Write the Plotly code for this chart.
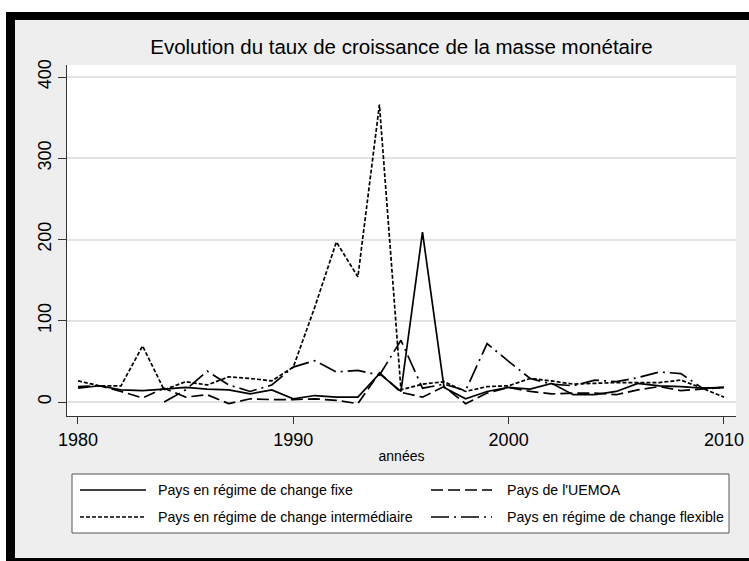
import plotly.graph_objects as go

# années 1980-2010
annees = list(range(1980, 2011))

# taux de croissance de la masse monétaire (%)
fixe = [17, 20, 15, 14, 16, 18, 16, 15, 10, 15, 4, 8, 6, 6, 35, 13, 209, 18, 4, 13,
        18, 16, 23, 9, 9, 13, 23, 20, 19, 17, 18]
uemoa = [19, 20, 13, 5, 17, 6, 9, -2, 4, 3, 3, 4, 2, -2, 36, 12, 6, 19, -2, 11,
         18, 13, 10, 11, 11, 9, 15, 19, 14, 16, 18]
intermediaire = [26, 20, 20, 69, 15, 25, 21, 31, 29, 26, 43, 117, 197, 154, 366, 15, 22, 25, 13, 19,
                 20, 29, 26, 22, 23, 24, 24, 24, 27, 17, 6]
flexible = [None, None, None, None, 0, 15, 38, 21, 13, 21, 43, 51, 37, 39, 33, 76, 17, 22, 14, 72,
            50, 29, 22, 20, 27, 25, 30, 37, 35, 17, 18]

noms = ["Pays en régime de change fixe", "Pays de l'UEMOA",
        "Pays en régime de change intermédiaire", "Pays en régime de change flexible"]
series = [fixe, uemoa, intermediaire, flexible]
tirets = ["solid", "12px,5px", "4px,2px", "18px,5px,2px,5px"]

fig = go.Figure()
for nom, vals, dash in zip(noms, series, tirets):
    fig.add_trace(go.Scatter(x=annees, y=vals, name=nom, mode="lines", showlegend=False,
                             line=dict(color="black", width=1.7, dash=dash)))

# positions en pixels -> coordonnées papier
W, H = 749, 561
L, R, T, B = 67, 736, 65, 416
def px(x):
    return (x - L) / (R - L)
def py(y):
    return (B - y) / (B - T)

# cadre noir autour du graphique
shapes = [
    dict(type="rect", x0=px(0), x1=px(W), y0=py(0), y1=py(12), fillcolor="white", line_width=0),
    dict(type="rect", x0=px(0), x1=px(6), y0=py(0), y1=py(H), fillcolor="white", line_width=0),
    dict(type="rect", x0=px(6), x1=px(W), y0=py(12), y1=py(20), fillcolor="black", line_width=0),
    dict(type="rect", x0=px(6), x1=px(15), y0=py(12), y1=py(H), fillcolor="black", line_width=0),
    dict(type="rect", x0=px(6), x1=px(W), y0=py(558), y1=py(H), fillcolor="black", line_width=0),
    # boîte de la légende
    dict(type="rect", x0=px(72), x1=px(729), y0=py(474), y1=py(533), fillcolor="white",
         line=dict(color="#555555", width=1)),
]

# légende sur deux colonnes (Stata)
annotations = []
pos_leg = [(80, 146, 156, 490), (431, 492, 505, 490), (80, 146, 156, 517), (431, 492, 505, 517)]
for nom, dash, (xa, xb, xt, yr) in zip(noms, tirets, pos_leg):
    shapes.append(dict(type="line", x0=px(xa), x1=px(xb), y0=py(yr), y1=py(yr),
                       line=dict(color="black", width=1.7, dash=dash)))
    annotations.append(dict(text=nom, x=px(xt), y=py(yr), xref="paper", yref="paper",
                            xanchor="left", yanchor="middle", showarrow=False,
                            font=dict(size=14.2)))
for s in shapes:
    s.update(xref="paper", yref="paper", layer="above")

fig.update_layout(
    width=W, height=H,
    margin=dict(l=L, r=W - R, t=T, b=H - B, autoexpand=False),
    paper_bgcolor="#eeeeee", plot_bgcolor="white",
    font=dict(family="Liberation Sans, Arial, sans-serif", color="black"),
    title=dict(text="Evolution du taux de croissance de la masse monétaire",
               font=dict(size=20.5), x=0.5, xref="paper", xanchor="center",
               y=1 - 47 / H, yref="container", yanchor="middle"),
    shapes=shapes,
    annotations=annotations,
)
fig.update_xaxes(range=[1979.49, 2010.56], tickvals=[1980, 1990, 2000, 2010],
                 showgrid=False, zeroline=False, showline=True, linecolor="#333333", linewidth=1,
                 ticks="outside", ticklen=7, tickcolor="#333333", tickfont=dict(size=18),
                 title=dict(text="années", font=dict(size=14), standoff=2))
fig.update_yaxes(range=[-17.2, 414.8], tickvals=[0, 100, 200, 300, 400], tickangle=-90,
                 showgrid=True, gridcolor="#e4e4e4", gridwidth=1.5, zeroline=False,
                 showline=True, linecolor="#333333", linewidth=1,
                 ticks="outside", ticklen=8, tickcolor="#333333", tickfont=dict(size=18))

# pas de marge de page autour du graphique
fig.write_html("out.html", config={"displayModeBar": False},
               post_script="document.body.style.margin='0';")
